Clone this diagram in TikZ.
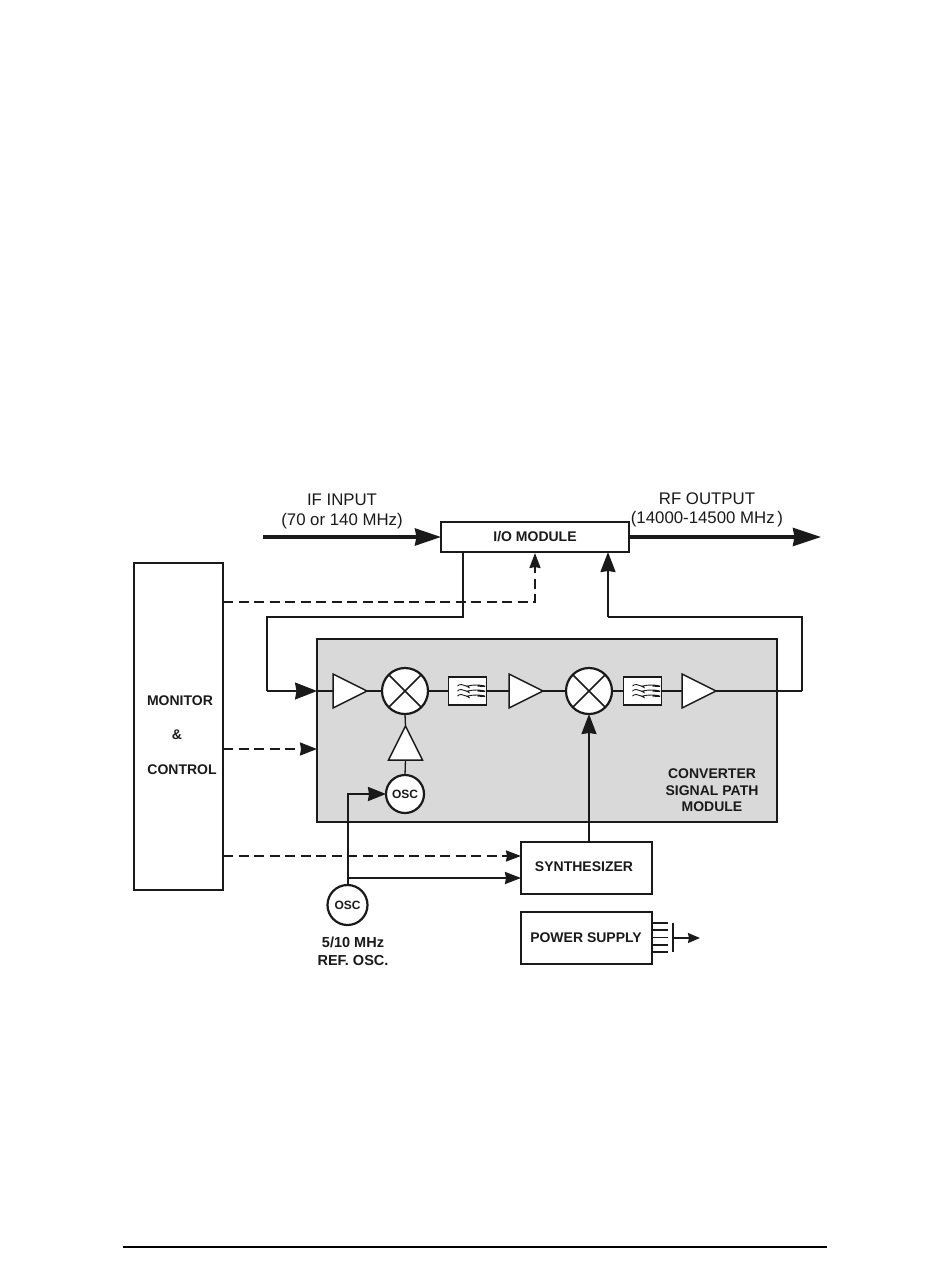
\documentclass[tikz,border=0pt]{standalone}
\usepackage{fontspec}
\setmainfont{Liberation Sans}
\usetikzlibrary{arrows.meta,shapes.geometric,positioning,calc}
\definecolor{ink}{HTML}{1A1A1A}
\definecolor{modgray}{HTML}{D9D9D9}
\tikzset{
  x=1pt,y=-1pt,
  every node/.style={text=ink,inner sep=0pt,outer sep=0pt,align=center},
  blockbox/.style={draw=ink,line width=1.5pt,fill=white,minimum width=#1},
  lbl/.style={font=\bfseries\fontsize{14}{16}\selectfont},
  big/.style={font=\fontsize{16.8}{20}\selectfont},
  ampl/.style={draw=ink,line width=1.5pt,fill=white,isosceles triangle,isosceles triangle stretches,minimum width=34pt,minimum height=34pt,anchor=apex},
  mixer/.style={draw=ink,line width=2.2pt,fill=white,circle,minimum size=46pt,
    path picture={\draw[ink,line width=1.6pt] (path picture bounding box.north west)--(path picture bounding box.south east)
      (path picture bounding box.north east)--(path picture bounding box.south west);}},
  oscc/.style={draw=ink,line width=2.2pt,fill=white,circle,minimum size=#1,font=\bfseries\fontsize{12}{14}\selectfont},
  filt/.style={draw=ink,line width=1.6pt,fill=white,minimum width=38pt,minimum height=28pt,
    path picture={\foreach \d in {-5,0,5}{\draw[ink,line width=.9pt] ([shift={(-10,\d)}]path picture bounding box.center) .. controls +(4,-5) and +(6,5) .. +(10,0) .. controls +(13,-3) and +(16,2) .. +(20,0);}}},
  wire/.style={draw=ink,line width=#1,line join=miter},
  wire/.default=1.3pt,
  dashl/.style={draw=ink,line width=2pt,dash pattern=on 10pt off 5.5pt},
}
\begin{document}
\begin{tikzpicture}
\useasboundingbox (0,0) rectangle (950,1267);
\fill[white] (0,0) rectangle (950,1267);
% gray module
\node[draw=ink,line width=1.8pt,fill=modgray,minimum width=460pt,minimum height=183pt,anchor=north west] (conv) at (317,639) {};
% blocks
\node[blockbox=188pt,minimum height=30pt,anchor=north west,lbl] (io) at (441,522) {I/O MODULE};
\node[blockbox=89pt,minimum height=327pt,anchor=north west] (mon) at (134,563) {};
\node[lbl] (montxt) at (180,701) {MONITOR};
\node[lbl] (amp) at (177,735) {\&};
\node[lbl] (ctltxt) at (182,770) {CONTROL};
\node[blockbox=131pt,minimum height=52pt,anchor=north west] (syn) at (521,842) {};
\node[lbl] (syntxt) at (584,867) {SYNTHESIZER};
\node[blockbox=131pt,minimum height=52pt,anchor=north west] (psu) at (521,912) {};
\node[lbl] (psutxt) at (586,938) {POWER SUPPLY};
% signal path
\node[ampl] (a1) at (367,691) {};
\node[mixer] (m1) at (405,691) {};
\node[filt] (f1) at (467.5,691) {};
\node[ampl] (a2) at (543,691) {};
\node[mixer] (m2) at (589,691) {};
\node[filt] (f2) at (642.5,691) {};
\node[ampl] (a3) at (716,691) {};
\node[ampl,shape border rotate=90] (a4) at (405.5,726) {};
\node[oscc=38pt] (o1) at (405,794) {OSC};
\node[oscc=40pt] (o2) at (347.5,905) {OSC};
\draw[ink,line width=1.6pt] (f1.south west) rectangle (f1.north east);
\draw[ink,line width=1.6pt] (f2.south west) rectangle (f2.north east);
% texts
\node[big] (t1) at (342,500) {IF INPUT};
\node[big] (t2) at (342,521) {(70 or 140 MHz)};
\node[big] (t3) at (707,499) {RF OUTPUT};
\node[big] (t4) at (707,519) {(14000-14500 MHz\,)};
\node[lbl] (t5) at (712,774) {CONVERTER};
\node[lbl] (t6) at (712,791) {SIGNAL PATH};
\node[lbl] (t7) at (712,807) {MODULE};
\node[font=\bfseries\fontsize{14.5}{16}\selectfont] (t8) at (353,942) {5/10 MHz};
\node[font=\bfseries\fontsize{14.5}{16}\selectfont] (t9) at (353,960) {REF. OSC.};
% named free ends
\coordinate (inS) at (263,537);
\coordinate (outE) at (821,537);
\coordinate (loopL) at (267,617);
\coordinate (loopR) at (802,617);
\coordinate (bt) at (673,923);
\coordinate (bb) at (673,952);
\coordinate (pe) at (700,938);
\coordinate (fl) at (123,1247);
\coordinate (fr) at (827,1247);
% thick IO arrows
\draw[wire=3.4pt,-{Stealth[length=26pt,width=17pt,inset=1.5pt]}] (inS) -- (inS -| io.west);
\draw[wire=3.4pt,-{Stealth[length=28pt,width=18pt,inset=1.5pt]}] (outE -| io.east) -- (outE);
% dashed control
\draw[dashl,-{Stealth[length=15pt,width=11pt,inset=1pt]}] (mon.east |- 0,602) -- (535,602) -- (535,553);
\draw[dashl,-{Stealth[length=17pt,width=13pt,inset=1pt]}] (mon.east |- 0,749) -- (conv.west |- 0,749);
\draw[dashl,-{Stealth[length=15pt,width=11pt,inset=1pt]}] (mon.east |- 0,856) -- (syn.west |- 0,856);
% solid path
\draw[wire=2pt] (463,552) -- (463,617) -- (loopL) -- (267,691);
\draw[wire,-{Stealth[length=22pt,width=17pt,inset=1.5pt]}] (267,691) -- (conv.west |- 0,691);
\draw[wire] (conv.west |- 0,691) -- (a1.lower side);
\draw[wire] (a1.apex) -- (m1.west);
\draw[wire] (m1.east) -- (f1.west);
\draw[wire] (f1.east) -- (a2.lower side);
\draw[wire] (a2.apex) -- (m2.west);
\draw[wire] (m2.east) -- (f2.west);
\draw[wire] (f2.east) -- (a3.lower side);
\draw[wire] (a3.apex) -- (802,691);
\draw[wire=2pt] (802,691) -- (loopR) -- (608,617);
\draw[wire=2pt,-{Stealth[length=20pt,width=15pt,inset=1pt]}] (608,617) -- (608,552);
\draw[wire] (o1.north) -- (a4.lower side);
\draw[wire] (a4.apex) -- (m1.south);
\draw[wire=2pt,-{Stealth[length=20pt,width=15pt,inset=1pt]}] (syn.north -| m2.south) -- (m2.south);
\draw[wire=2pt,-{Stealth[length=18pt,width=14pt,inset=1pt]}] (o2.north) -- (347.5,794) -- (o1.west);
\draw[wire=2pt,-{Stealth[length=16pt,width=12pt,inset=1pt]}] (347.5,878) -- (syn.west |- 0,878);
% power supply outlet
\foreach \y in {923,930,937.5,945,952}{\draw[wire=1.5pt] (psu.east |- 0,\y) -- (668,\y);}
\draw[wire=1.5pt] (bt) -- (bb);
\draw[wire=1.5pt,-{Stealth[length=12pt,width=10pt,inset=1pt]}] (673,938) -- (pe);
% footer rule
\draw[black,line width=1.5pt] (fl) -- (fr);
\end{tikzpicture}
\end{document}
